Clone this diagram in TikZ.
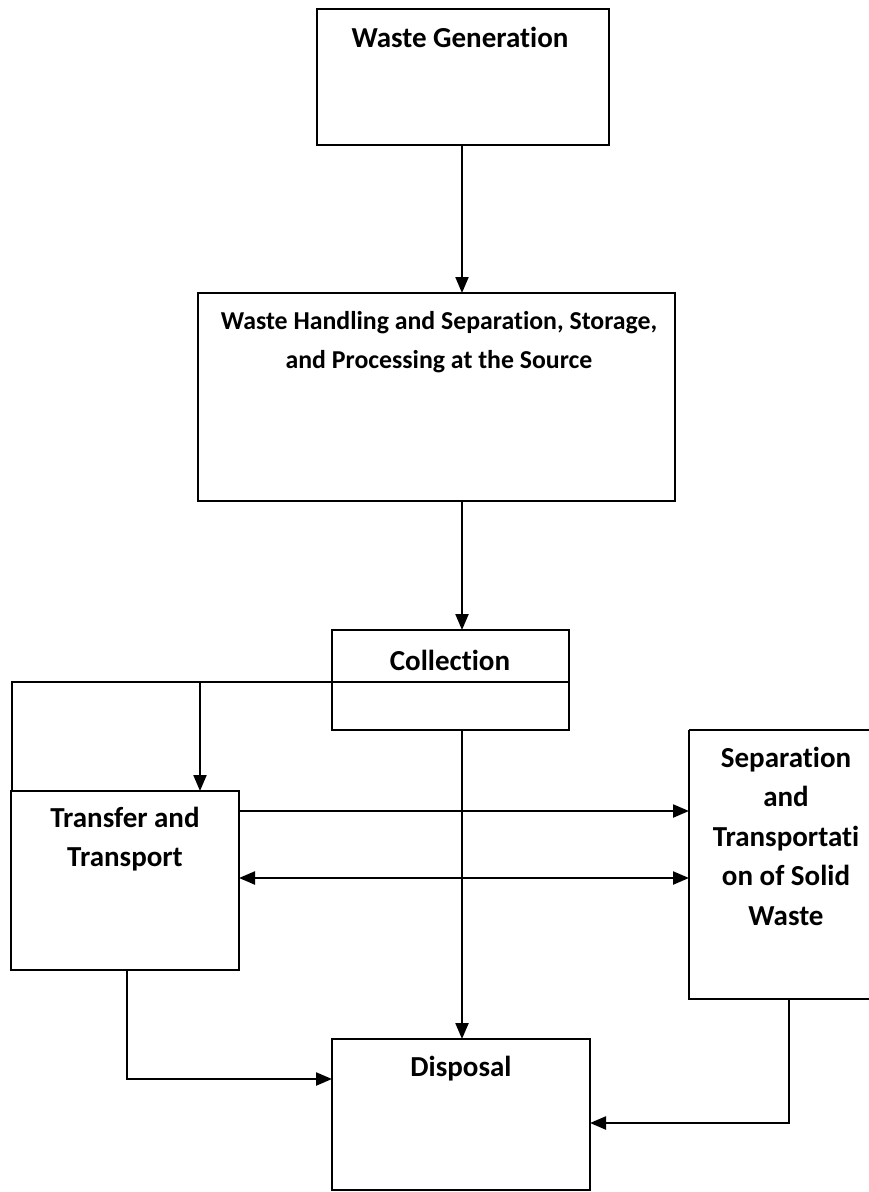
\documentclass[tikz,border=0pt]{standalone}
\usepackage{fontspec}
\setmainfont{Carlito}[Ligatures={NoCommon}]
\usetikzlibrary{arrows.meta}
\begin{document}
\begin{tikzpicture}[x=1pt,y=-1pt,
  box/.style={draw=black,line width=2.3pt},
  lbl/.style={font=\fontsize{29}{39.5}\selectfont\bfseries,align=center,inner sep=0pt},
  lblsmall/.style={font=\fontsize{25.8}{39}\selectfont\bfseries,align=center,inner sep=0pt},
  tip/.tip={Triangle[length=16pt,width=13pt]},
  conn/.style={line width=2.2pt,-tip},
  plain/.style={line width=2.2pt}]
\useasboundingbox (0,0) rectangle (869,1192);
% boxes
\draw[box] (317,9) rectangle (609,145);
\coordinate (wgS) at (462,145);
\draw[box] (198,293) rectangle (675,501);
\coordinate (hN) at (462,293);
\coordinate (hS) at (462,501);
\draw[box] (332,630) rectangle (569,730);
\draw[box] (332,682) -- (569,682);
\coordinate (cN) at (462,630);
\coordinate (cS) at (462,730);
\coordinate (cL) at (332,682);
\draw[box] (11,791) rectangle (239,970);
\draw[box] (689,730) -- (874,730) (689,730) -- (689,999) -- (874,999);
\draw[box] (332,1039) rectangle (590,1190);
% texts
\node[lbl] (wg) at (460,37) {Waste Generation};
\node[lblsmall] (hd) at (439,342) {Waste Handling and Separation, Storage,\\and Processing at the Source};
\node[lbl] (col) at (450,660) {Collection};
\node[lbl] (tr) at (125,839) {Transfer and\\Transport};
\node[lbl] (sep) at (786,836) {Separation\\and\\Transportati\\on of Solid\\Waste};
\node[lbl] (dis) at (461,1069) {Disposal};
% named anchor points
\coordinate (trN) at (200,791);
\coordinate (trNW) at (12,791);
\coordinate (trE1) at (239,811);
\coordinate (trE2) at (239,878);
\coordinate (trS) at (127,970);
\coordinate (sW1) at (689,811);
\coordinate (sW2) at (689,878);
\coordinate (sS) at (789,999);
\coordinate (dN) at (462,1039);
\coordinate (dW) at (332,1079);
\coordinate (dE) at (590,1123);
\coordinate (split) at (200,682);
% connectors
\draw[conn] (wgS) -- (hN);
\draw[conn] (hS) -- (cN);
\draw[plain] (cL) -- (12,682) -- (trNW);
\draw[conn] (split) -- (trN);
\draw[conn] (cS) -- (dN);
\draw[conn] (trE1) -- (sW1);
\draw[line width=2.2pt,tip-tip] (trE2) -- (sW2);
\draw[conn] (trS) |- (dW);
\draw[conn] (sS) |- (dE);
\end{tikzpicture}
\end{document}
